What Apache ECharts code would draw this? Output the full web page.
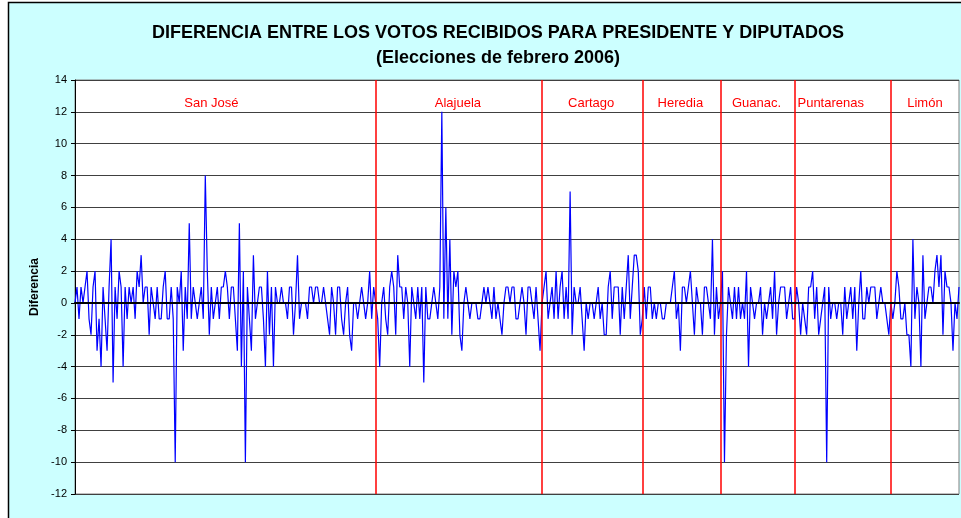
<!DOCTYPE html>
<html>
<head>
<meta charset="utf-8">
<script src="https://cdn.jsdelivr.net/npm/echarts@6/dist/echarts.min.js"></script>
<style>
  html, body { margin: 0; padding: 0; background: #fff; }
  #chart { width: 961px; height: 518px; }
</style>
</head>
<body>
<div id="chart"></div>
<script>
// diferencia por junta receptora, agrupada por provincia
const sanJose = [
  0, 1, -1, 1, 0, 1, 2, -1, -2, 1,
  2, -3, -1, -4, 1, -1, -3, 1, 4, -5,
  1, -1, 2, 1, -4, 1, -1, 1, 0, 1,
  -1, 2, 1, 3, 0, 1, 1, -2, 1, 0,
  -1, 1, -1, -1, 1, 2, -1, -1, 1, -1,
  -10, 1, 0, 2, -3, 1, -1, 5, -1, 1,
  0, -1, 0, 1, -1, 8, 2, -2, 1, -1,
  0, 1, -1, 1, 1, 2, 1, -1, 1, 1,
  -1, -3, 5, -4, 2, -10, 1, -1, -3, 3,
  -1, 0, 1, 1, -1, -4, 2, -2, 1, -4,
  1, 0, 0, 1, 0, 0, -1, 1, 1, -2,
  0, 3, -1, 0, 0, 0, -1, 1, 1, 0,
  1, 1, 0, 0, 1, 0, -1, -2, 1, 0,
  -2, 1, 1, -1, -2, 0, 1, -2, -3, 0,
  0, -1, 0, 1, 0, -1, 0, 2, -1, 1
]
const alajuela = [
  0, -1, -4, 0, 1, -1, -2, 1, 2, 1,
  -2, 3, 1, 1, -1, 1, 0, -4, 1, 0,
  -1, 1, -1, 1, -5, 1, -1, -1, 0, 1,
  0, -1, 1, 12, -1, 6, -1, 4, -2, 2,
  1, 2, -2, -3, 0, 1, 0, -1, 0, 0,
  0, -1, -1, 0, 1, 0, 1, 0, -1, 1,
  -1, 0, -1, -2, 0, 1, 1, 0, 1, 1,
  -1, -1, 0, 1, 0, -2, 1, 1, 0, -1,
  1, -1, -3
]
const cartago = [
  0, 1, 2, -1, 0, 1, -1, 2, -1, 1,
  2, -1, 1, -1, 7, -2, 1, 0, 0, 1,
  -1, -3, 0, -1, 0, 0, -1, 0, 1, -1,
  0, -2, -2, 1, 2, -1, 1, 1, 1, -2,
  1, -1, 1, 3, -1, 1, 3, 3, 2, -2
]
const heredia = [
  -1, 1, -1, 1, 1, -1, 0, -1, 0, 0,
  -1, -1, 0, 0, 0, 1, 2, -1, 0, -3,
  1, 1, 0, 1, 2, 0, -2, 1, 0, 0,
  -2, 1, 1, 0, -1, 4, -2, 1, -1
]
const guanacaste = [
  0, 2, -10, -2, 1, 0, -1, 1, -1, 1,
  -1, 0, -1, 2, -4, 1, 0, -1, 0, 0,
  1, -2, 0, -1, 0, 1, -1, 2, -2, 0,
  1, 1, 1, -1, 0, 1, -1
]
const puntarenas = [
  -1, 1, 0, -2, 0, -1, -2, 1, 1, 2,
  -1, 1, -2, -1, 0, 1, -10, 1, -1, 0,
  0, -1, 0, 0, -2, 1, -1, 0, 1, -1,
  1, -3, 0, 2, -1, -1, 1, 0, 1, 1,
  1, -1, 0, 1, 0, 0, -1, -2
]
const limon = [
  0, -1, 0, 2, 1, -1, -1, 0, -2, -2,
  -4, 4, -1, 1, 0, -4, 3, -1, 0, 1,
  1, 0, 2, 3, 1, 3, -2, 2, 1, 1,
  0, -3, 0, -1, 1
]

const provincias = ['San José', 'Alajuela', 'Cartago', 'Heredia', 'Guanac.', 'Puntarenas', 'Limón']
const porProvincia = [sanJose, alajuela, cartago, heredia, guanacaste, puntarenas, limon]

const yMin = -12
const yMax = 14
const yStep = 2

const valores = [].concat(...porProvincia)
const juntas = valores.map((v, i) => String(i + 1))

// índice donde empieza cada provincia
const inicios = []
let acc = 0
porProvincia.forEach(d => { inicios.push(acc); acc += d.length })

// pequeño ajuste horizontal de algunas etiquetas (px)
const ajusteEtiqueta = { 'San José': -13, 'Puntarenas': -11 }

const fuente = 'Liberation Sans, Arial, sans-serif'

const chart = echarts.init(document.getElementById('chart'))

const option = {
  animation: false,
  backgroundColor: '#ffffff',
  graphic: [
    {
      type: 'rect',
      z: -10,
      shape: { x: 8.5, y: 2.5, width: 980, height: 540 },
      style: { fill: '#ccffff', stroke: '#000', lineWidth: 1.5 }
    }
  ],
  title: {
    text: 'DIFERENCIA ENTRE LOS VOTOS RECIBIDOS PARA PRESIDENTE Y DIPUTADOS\n(Elecciones de febrero 2006)',
    left: 493,
    top: 16,
    textAlign: 'center',
    textStyle: {
      fontFamily: fuente,
      fontSize: 18,
      fontWeight: 'bold',
      color: '#000',
      lineHeight: 25
    }
  },
  grid: {
    left: 75,
    right: 2,
    top: 80,
    bottom: 24,
    show: true,
    backgroundColor: '#fff',
    borderColor: '#808080',
    borderWidth: 1
  },
  xAxis: {
    type: 'category',
    data: juntas,
    boundaryGap: false,
    z: 5,
    axisLine: { onZero: true, lineStyle: { color: '#000', width: 2 } },
    axisTick: { show: false },
    axisLabel: { show: false },
    splitLine: { show: false }
  },
  yAxis: {
    type: 'value',
    min: yMin,
    max: yMax,
    interval: yStep,
    name: 'Diferencia',
    nameLocation: 'middle',
    nameGap: 30,
    nameTextStyle: { fontFamily: fuente, fontWeight: 'bold', fontSize: 12, color: '#000' },
    axisLine: { show: true, lineStyle: { color: '#000' } },
    axisTick: { show: true, length: 4, lineStyle: { color: '#000' } },
    axisLabel: { fontFamily: fuente, fontSize: 11, color: '#000', margin: 8 },
    splitLine: { lineStyle: { color: '#404040', width: 1 } }
  },
  series: [
    {
      type: 'line',
      data: valores,
      symbol: 'none',
      lineStyle: { color: '#0000ff', width: 1.2 },
      markLine: {
        silent: true,
        symbol: ['none', 'none'],
        label: { show: false },
        lineStyle: { color: '#ff0000', width: 1.5, type: 'solid' },
        data: inicios.slice(1).map(s => ({ xAxis: s }))
      },
      markArea: {
        silent: true,
        itemStyle: { color: 'rgba(0,0,0,0)' },
        label: { show: true, position: 'inside', color: '#ff0000', fontSize: 13, fontFamily: fuente },
        data: provincias.map((p, i) => [
          { name: p, xAxis: inicios[i], yAxis: 11, label: { offset: [ajusteEtiqueta[p] || 0, 0] } },
          { xAxis: inicios[i] + porProvincia[i].length - 1, yAxis: 14 }
        ])
      }
    }
  ]
}

chart.setOption(option)
window.addEventListener('resize', () => chart.resize())
</script>
</body>
</html>
